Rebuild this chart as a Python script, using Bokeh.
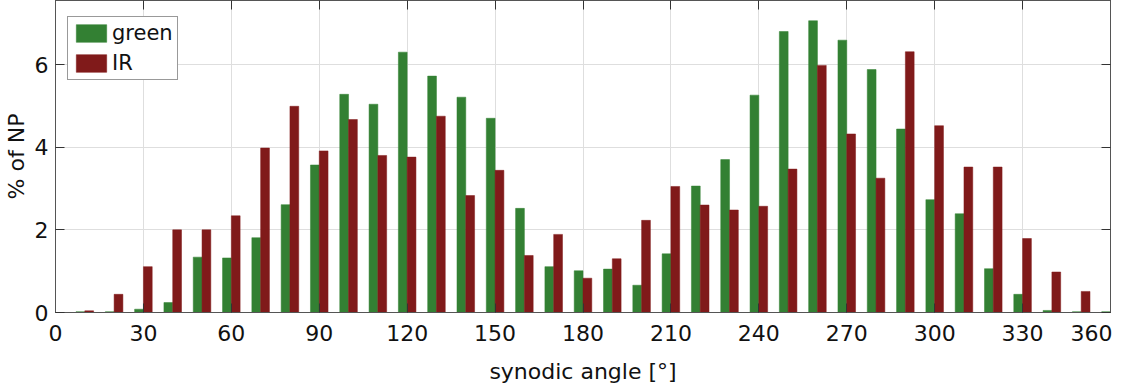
from bokeh.plotting import figure
from bokeh.models import (LinearAxis, FixedTicker, Range1d, Legend, LegendItem,
                          ColumnDataSource, CustomJSTickFormatter)
from bokeh.embed import file_html
from bokeh.resources import INLINE

angles = [0, 10, 20, 30, 40, 50, 60, 70, 80, 90, 100, 110, 120, 130, 140, 150, 160, 170, 180,
          190, 200, 210, 220, 230, 240, 250, 260, 270, 280, 290, 300, 310, 320, 330, 340, 350, 360]
green = [0.0, 0.02, 0.02, 0.08, 0.24, 1.34, 1.32, 1.81, 2.61, 3.57, 5.28, 5.04, 6.30, 5.72, 5.21, 4.70,
         2.52, 1.11, 1.01, 1.05, 0.66, 1.42, 3.06, 3.70, 5.26, 6.80, 7.06, 6.59, 5.88, 4.44, 2.73,
         2.39, 1.06, 0.44, 0.05, 0.02, 0.02]
ir = [0.0, 0.04, 0.44, 1.11, 2.00, 2.00, 2.34, 3.98, 4.99, 3.91, 4.67, 3.80, 3.76, 4.75, 2.83, 3.44,
      1.38, 1.89, 0.83, 1.30, 2.23, 3.05, 2.60, 2.48, 2.57, 3.47, 5.98, 4.32, 3.25, 6.31, 4.52,
      3.52, 3.52, 1.79, 0.98, 0.51, 0.0]
x_ticks = [0, 30, 60, 90, 120, 150, 180, 210, 240, 270, 300, 330, 360]
y_ticks = [0, 2, 4, 6]

FONT = "DejaVu Sans"
FS = "22px"
GREEN = "#338033"
RED = "#801a1a"

src = ColumnDataSource(dict(
    xg=[a - 1.5 for a in angles],
    xr=[a + 1.5 for a in angles],
    green=green, ir=ir))

p = figure(width=1112, height=386, output_backend="svg", toolbar_location=None,
           x_range=Range1d(0, 360), y_range=Range1d(0, 7.55),
           min_border_left=10, min_border_right=2, min_border_top=0, min_border_bottom=10)

rg = p.vbar(x="xg", top="green", width=3.0, source=src, fill_color=GREEN, line_color=GREEN, line_width=0.5)
rr = p.vbar(x="xr", top="ir", width=3.0, source=src, fill_color=RED, line_color=RED, line_width=0.5)

p.outline_line_color = "#555555"
p.outline_line_width = 1

for ax in (p.xaxis[0], p.yaxis[0]):
    ax.major_tick_in = 9
    ax.major_tick_out = 0
    ax.minor_tick_in = 0
    ax.minor_tick_out = 0
    ax.axis_line_color = "#555555"
    ax.major_tick_line_color = "#333333"
    ax.major_label_text_font = FONT
    ax.major_label_text_font_size = FS
    ax.major_label_text_color = "#111111"
    ax.axis_label_text_font = FONT
    ax.axis_label_text_font_size = FS
    ax.axis_label_text_font_style = "normal"
    ax.axis_label_text_color = "#111111"

p.xaxis[0].ticker = FixedTicker(ticks=x_ticks)
p.yaxis[0].ticker = FixedTicker(ticks=y_ticks)
p.xaxis[0].axis_label = "synodic angle [°]"
p.yaxis[0].axis_label = "% of NP"
p.xaxis[0].major_label_standoff = 12
p.xaxis[0].axis_label_standoff = 15
p.yaxis[0].major_label_standoff = 7
p.yaxis[0].axis_label_standoff = 3

top_ax = LinearAxis(ticker=FixedTicker(ticks=x_ticks), formatter=CustomJSTickFormatter(code="return ''"),
                    major_tick_in=9, major_tick_out=0, minor_tick_in=0, minor_tick_out=0,
                    axis_line_color="#555555", major_tick_line_color="#333333",
                    major_label_standoff=0)
right_ax = LinearAxis(ticker=FixedTicker(ticks=y_ticks), formatter=CustomJSTickFormatter(code="return ''"),
                      major_tick_in=9, major_tick_out=0, minor_tick_in=0, minor_tick_out=0,
                      axis_line_color="#555555", major_tick_line_color="#333333",
                      major_label_standoff=0)
p.add_layout(top_ax, "above")
p.add_layout(right_ax, "right")

p.xgrid.ticker = FixedTicker(ticks=x_ticks)
p.ygrid.ticker = FixedTicker(ticks=y_ticks)
p.xgrid.grid_line_color = "#dedede"
p.ygrid.grid_line_color = "#dedede"

legend = Legend(items=[LegendItem(label="green", renderers=[rg]),
                       LegendItem(label="IR", renderers=[rr])],
                location=(12, 232))
legend.label_text_font = FONT
legend.label_text_font_size = "21px"
legend.label_text_color = "#111111"
legend.glyph_width = 38
legend.glyph_height = 22
legend.label_standoff = 2
legend.spacing = 6
legend.padding = 4
legend.margin = 0
legend.border_line_color = "#333333"
legend.border_line_width = 1
legend.background_fill_alpha = 1.0
p.add_layout(legend)

p.background_fill_color = "white"
p.border_fill_color = "white"

open("out.html", "w").write(file_html(p, INLINE))
